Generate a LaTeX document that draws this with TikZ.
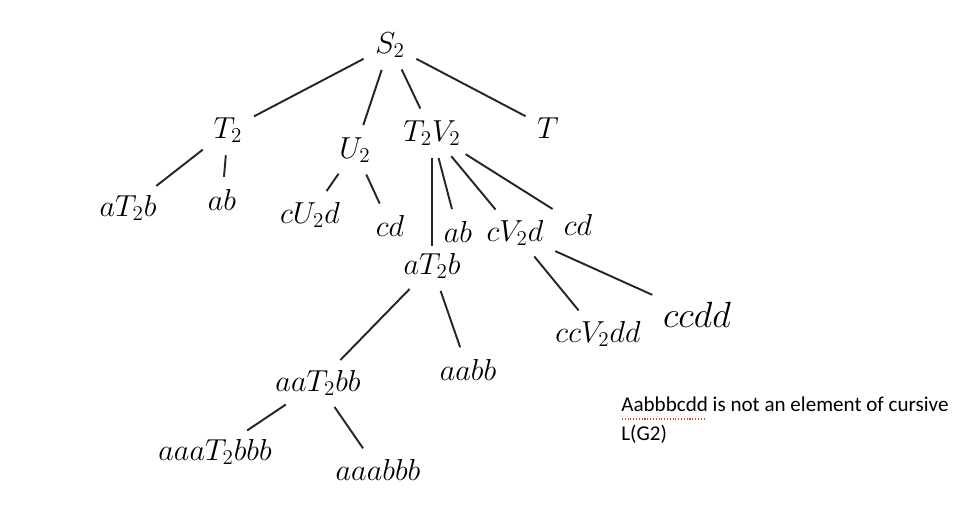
\documentclass[tikz,border=0pt]{standalone}
\usepackage{fontspec}
\newfontfamily\notefont{Carlito}
\usepackage{amsmath}
\usepackage{tikz}
\usetikzlibrary{calc}

\begin{document}
\begin{tikzpicture}[x=0.02cm,y=-0.02cm,
  word/.style={font=\LARGE,inner sep=2pt},
  big/.style={font=\huge,inner sep=2pt},
  branch/.style={line width=1.1pt,draw=black!85,shorten >=5pt,shorten <=5pt}]
\useasboundingbox (0,0) rectangle (968,526);
% derivation tree
\node[word] (s)   at (390,45)  {$S_2$};
\node[word] (t2)  at (228,130) {$T_2$};
\node[word] (u2)  at (355,150) {$U_2$};
\node[word] (tv)  at (432,133) {$T_2V_2$};
\node[word] (t)   at (548,128) {$T$};
\node[word] (atb) at (128,208) {$aT_2b$};
\node[word] (ab)  at (222,200) {$ab$};
\node[word] (cud) at (310,215) {$cU_2d$};
\node[word] (cd)  at (390,226) {$cd$};
\node[word] (abb) at (458,232) {$ab$};
\node[word] (cvd) at (515,233) {$cV_2d$};
\node[word] (cdd) at (578,225) {$cd$};
\node[word] (atc) at (432,266) {$aT_2b$};
\node[word] (ccv) at (598,334) {$ccV_2dd$};
\node[big]  (cc)  at (697,315) {$ccdd$};
\node[word] (aat) at (318,383) {$aaT_2bb$};
\node[word] (aab) at (468,370) {$aabb$};
\node[word] (aaa) at (215,452) {$aaaT_2bbb$};
\node[word] (aaw) at (378,470) {$aaabbb$};

\draw[branch] (s) -- (t2);
\draw[branch] (s) -- (u2);
\draw[branch] (s) -- (tv);
\draw[branch] (s) -- (t);
\draw[branch] (t2) -- (atb);
\draw[branch] (t2) -- (ab);
\draw[branch] (u2) -- (cud);
\draw[branch] (u2) -- (cd);
\draw[branch,shorten >=2pt] (tv) -- (atc);
\draw[branch] (tv) -- (abb);
\draw[branch] (tv) -- (cvd);
\draw[branch] (tv) -- (cdd);
\draw[branch] (cvd) -- (ccv);
\draw[branch] (cvd) -- (cc);
\draw[branch] (atc) -- (aat);
\draw[branch] (atc) -- (aab);
\draw[branch] (aat) -- (aaa);
\draw[branch] (aat) -- (aaw);

% note
\node[anchor=north west,align=left,inner sep=0pt,font=\notefont\fontsize{12}{16}\selectfont]
  (note) at (621,397) {Aabbbcdd is not an element of cursive\\L(G2)};
\draw[red!80,densely dotted,line width=0.6pt] ($(note.north west)+(1,22)$) -- ++(84,0);
\end{tikzpicture}
\end{document}
